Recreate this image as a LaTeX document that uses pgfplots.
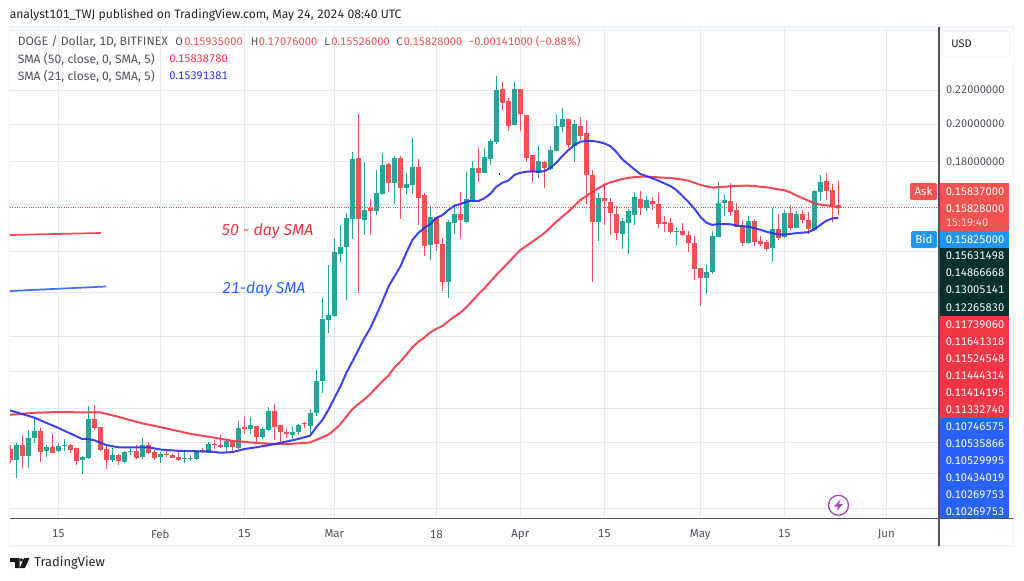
\documentclass[border=0pt]{standalone}
\usepackage{pgfplots}
\usepackage{pgfplotstable}
\usepackage{fontspec}
\pgfplotsset{compat=1.18}
\setmainfont[Numbers=Monospaced]{Fira Sans}
\definecolor{cg}{HTML}{26A69A}
\definecolor{cr}{HTML}{EF5350}
\definecolor{gridc}{HTML}{E1EBF2}
\definecolor{framec}{HTML}{F0F3FA}
\definecolor{txt}{HTML}{50535E}
\definecolor{smab}{HTML}{2A2EEF}
\definecolor{smar}{HTML}{F23645}
\definecolor{darkb}{HTML}{04312C}
\definecolor{askr}{HTML}{F25350}
\definecolor{bidb}{HTML}{2196F3}
\definecolor{blue2}{HTML}{2962FF}
\definecolor{purp}{HTML}{AB47BC}
\pgfplotstableread{
d o h l c
7 .0783 .0821 .0745 .0816
9 .0792 .0851 .0766 .0832
10 .0833 .0881 .0821 .0849
12 .0803 .0816 .0790 .0812
14 .0803 .0820 .0801 .0814
15 .0815 .0830 .0802 .0817
18 .0783 .0792 .0753 .0789
19 .0787 .0910 .0786 .0877
23 .0783 .0809 .0779 .0794
25 .0779 .0803 .0779 .0801
26 .0802 .0809 .0794 .0803
28 .0789 .0833 .0785 .0816
31 .0789 .0800 .0777 .0796
35 .0787 .0805 .0777 .0788
36 .0787 .0793 .0781 .0788
37 .0785 .0805 .0785 .0803
39 .0799 .0823 .0799 .0818
42 .0812 .0830 .0799 .0826
44 .0810 .0873 .0810 .0855
46 .0853 .0882 .0842 .0863
48 .0835 .0858 .0830 .0853
49 .0851 .0907 .0851 .0897
53 .0840 .0858 .0830 .0846
54 .0846 .0865 .0840 .0863
56 .0860 .0902 .0842 .0892
57 .0893 .1006 .0886 .0976
58 .0975 .1231 .0945 .1160
59 .1157 .1349 .1117 .1173
60 .1171 .1455 .1171 .1400
61 .1391 .1509 .1362 .1419
62 .1419 .1560 .1224 .1539
63 .1534 .1850 .1451 .1814
65 .1530 .1799 .1467 .1573
67 .1569 .1759 .1551 .1650
68 .1646 .1845 .1646 .1784
70 .1697 .1829 .1600 .1819
72 .1673 .1745 .1646 .1692
73 .1688 .1924 .1646 .1774
76 .1427 .1591 .1368 .1543
79 .1287 .1530 .1231 .1522
80 .1518 .1600 .1472 .1556
82 .1522 .1749 .1518 .1622
83 .1613 .1804 .1609 .1769
85 .1745 .1871 .1745 .1824
86 .1814 .1918 .1784 .1908
87 .1902 .2287 .1892 .2200
90 .1995 .2250 .1995 .2206
94 .1745 .1881 .1721 .1804
96 .1764 .1881 .1764 .1860
97 .1855 .2051 .1855 .1989
98 .1983 .2092 .1956 .2029
100 .1881 .2023 .1799 .2000
104 .1522 .1650 .1443 .1627
108 .1472 .1539 .1411 .1526
109 .1518 .1578 .1391 .1569
110 .1551 .1655 .1509 .1631
112 .1582 .1636 .1569 .1618
117 .1481 .1500 .1427 .1484
122 .1301 .1349 .1244 .1324
123 .1324 .1484 .1316 .1463
124 .1459 .1702 .1459 .1605
125 .1605 .1641 .1547 .1618
129 .1435 .1547 .1435 .1526
133 .1415 .1582 .1364 .1492
135 .1459 .1573 .1455 .1560
137 .1496 .1569 .1496 .1556
140 .1488 .1664 .1484 .1659
141 .1655 .1735 .1613 .1702
}\greencandles
\pgfplotstableread{
d o h l c
6 .0807 .0816 .0776 .0783
8 .0816 .0840 .0766 .0792
11 .0849 .0855 .0779 .0801
13 .0812 .0842 .0799 .0799
16 .0816 .0818 .0799 .0805
17 .0810 .0810 .0773 .0781
20 .0877 .0912 .0851 .0855
21 .0858 .0859 .0803 .0805
22 .0807 .0816 .0764 .0783
24 .0794 .0796 .0773 .0781
27 .0803 .0816 .0785 .0787
29 .0816 .0823 .0796 .0799
30 .0801 .0805 .0783 .0787
32 .0796 .0803 .0789 .0794
33 .0794 .0796 .0787 .0788
34 .0789 .0803 .0781 .0783
38 .0804 .0809 .0799 .0800
40 .0818 .0828 .0807 .0816
41 .0816 .0840 .0810 .0812
43 .0826 .0828 .0801 .0812
45 .0858 .0882 .0842 .0853
47 .0860 .0860 .0820 .0835
50 .0897 .0915 .0828 .0858
51 .0863 .0863 .0823 .0846
52 .0846 .0855 .0833 .0842
55 .0868 .0870 .0855 .0865
64 .1819 .2057 .1249 .1534
66 .1582 .1622 .1467 .1569
69 .1789 .1794 .1655 .1697
71 .1819 .1829 .1534 .1673
74 .1774 .1814 .1509 .1627
75 .1641 .1650 .1383 .1423
77 .1543 .1543 .1403 .1431
78 .1431 .1455 .1255 .1287
81 .1556 .1655 .1451 .1530
84 .1769 .1871 .1702 .1745
88 .2206 .2250 .2080 .2121
89 .2133 .2151 .1962 .1989
91 .2206 .2206 .1962 .2057
92 .2051 .2051 .1799 .1819
93 .1834 .1834 .1702 .1749
95 .1799 .1804 .1673 .1769
99 .2029 .2029 .1871 .1886
101 .1989 .2040 .1913 .1934
102 .1951 .2017 .1600 .1735
103 .1735 .1759 .1287 .1522
105 .1627 .1697 .1509 .1613
106 .1609 .1627 .1467 .1560
107 .1556 .1591 .1447 .1476
111 .1622 .1659 .1551 .1582
113 .1613 .1631 .1573 .1600
114 .1600 .1650 .1496 .1513
115 .1522 .1547 .1480 .1513
116 .1518 .1539 .1472 .1480
118 .1484 .1518 .1463 .1467
119 .1467 .1484 .1400 .1435
120 .1435 .1463 .1294 .1335
121 .1339 .1339 .1203 .1301
126 .1613 .1697 .1547 .1564
127 .1573 .1605 .1500 .1500
128 .1509 .1526 .1423 .1435
130 .1526 .1534 .1423 .1439
131 .1443 .1463 .1423 .1431
132 .1439 .1447 .1403 .1411
134 .1492 .1556 .1447 .1455
136 .1560 .1595 .1488 .1496
138 .1556 .1573 .1518 .1530
139 .1530 .1564 .1472 .1492
142 .1706 .1745 .1618 .1659
143 .1664 .1692 .1522 .1595
144 .15935 .17076 .15526 .15828
}\redcandles
\pgfplotstableread{
d v
5.95 .0899
10 .0881
14 .0856
18 .0830
19 .0830
20 .0827
22 .0816
24 .0811
26 .0811
29 .0811
31 .0806
34 .0803
37 .0802
39 .0802
41 .0799
43 .0800
45 .0807
47 .0811
50 .0818
54 .0830
56 .0838
57 .0858
58 .0875
59 .0900
60 .0930
61 .0961
62 .0998
63 .1030
64 .1064
65 .1100
66 .1131
67 .1173
68 .1218
69 .1269
70 .1306
71 .1343
72 .1396
73 .1447
74 .1476
75 .1496
76 .1513
77 .1539
78 .1551
79 .1573
80 .1592
81 .1600
82 .1610
83 .1615
84 .1613
85 .1626
86 .1646
87 .1679
88 .1698
89 .1708
90 .1735
91 .1746
92 .1751
93 .1753
94 .1751
95 .1754
96 .1770
97 .1796
98 .1829
99 .1860
100 .1886
101 .1904
102 .1909
103 .1908
104 .1904
105 .1895
106 .1881
107 .1851
108 .1813
109 .1788
110 .1763
111 .1740
112 .1730
113 .1719
114 .1708
115 .1695
116 .1683
117 .1664
118 .1637
119 .1610
120 .1580
121 .1544
122 .1519
123 .1509
124 .1513
125 .1513
126 .1512
127 .1507
128 .1504
129 .1501
130 .1496
131 .1489
132 .1481
133 .1475
134 .1470
135 .1469
136 .1472
137 .1475
138 .1477
139 .1479
140 .1491
141 .1509
142 .1527
143 .1537
144 .15391
}\smatwentyone
\pgfplotstableread{
d v
5.95 .0888
10 .0893
14 .0895
18 .0894
21 .0894
24 .0883
28 .0867
32 .0855
36 .0842
40 .0833
43 .0826
46 .0822
49 .0819
52 .0818
56 .0822
59 .0840
60 .0851
61 .0865
62 .0883
63 .0902
64 .0915
65 .0927
66 .0941
67 .0958
68 .0975
69 .0990
70 .1013
71 .1030
72 .1050
73 .1072
74 .1089
75 .1102
76 .1118
77 .1129
78 .1138
79 .1153
80 .1168
81 .1181
82 .1199
83 .1221
84 .1244
85 .1264
86 .1288
87 .1312
88 .1335
91 .1407
93 .1440
95 .1475
97 .1523
99 .1566
101 .1618
102 .1636
103 .1656
104 .1672
105 .1688
106 .1700
107 .1708
108 .1716
109 .1721
110 .1725
111 .1727
112 .1727
113 .1725
114 .1724
115 .1722
116 .1721
117 .1717
118 .1713
119 .1708
120 .1698
121 .1688
122 .1681
123 .1675
124 .1677
125 .1679
126 .1681
127 .1683
128 .1684
129 .1684
130 .1683
131 .1679
132 .1677
133 .1672
134 .1667
135 .1663
136 .1653
137 .1639
138 .1627
139 .1615
140 .1603
141 .1597
142 .1594
143 .1591
144 .15839
}\smafifty
\pgfplotsset{
  wick/.style={draw=none,mark=none,forget plot,
    error bars/.cd,y dir=both,y explicit,error mark=none,
    error bar style={line width=.75pt,draw=#1,solid}},
  body/.style={draw=none,mark=none,forget plot,
    error bars/.cd,y dir=plus,y explicit,error mark=none,
    error bar style={line width=3.7pt,draw=#1,solid}}
}
\newcommand\tl[3]{\node[anchor=west,inner sep=0,text=#3,font=\fontsize{8.3pt}{10pt}\selectfont] at (#1) {#2};}
\newcommand\tls[3]{\node[anchor=west,inner sep=0,text=#3,font=\fontsize{9.1pt}{10pt}\selectfont] at (#1) {#2};}
\begin{document}
\begin{tikzpicture}
\begin{scope}[x=.75pt,y=-.75pt]
\fill[white] (0,0) rectangle (1024,581);
\draw[framec,line width=1.3pt] (9.5,27) rectangle (1013.5,546);
\end{scope}
\begin{axis}[
  at={(7.5pt,-388.5pt)},anchor=south west,scale only axis,
  width=696.75pt,height=367.5pt,
  ymode=log,
  xmin=5.95,xmax=160.783,ymin=.066559,ymax=.2616,
  axis line style={draw=none},
  major tick length=0pt,minor tick length=0pt,
  grid=major,major grid style={gridc,line width=.75pt},
  xtick={14,31,45,60,77,91,105,121,135,152},
  xticklabels={15,Feb,15,Mar,18,Apr,15,May,15,Jun},
  xticklabel style={font=\fontsize{8.6pt}{10pt}\selectfont,text=txt,yshift=-5.5pt},
  ytick={.2601,.22,.20,.18,.16,.14,.1248,.1104,.1001,.0903,.0823,.0753,.0683},
  yticklabels={,0.22000000,0.20000000,0.18000000,,,,,,,,,},
  yticklabel pos=right,
  yticklabel style={font=\fontsize{8.3pt}{10pt}\selectfont,text=txt,anchor=west,xshift=1.8pt},
]
\addplot[wick=cg] table[x=d,y=o,y error plus expr=\thisrow{h}-\thisrow{o}+.00001,y error minus expr=\thisrow{o}-\thisrow{l}+.00001] {\greencandles};
\addplot[body=cg] table[x=d,y=o,y error plus expr=\thisrow{c}-\thisrow{o}+.00001] {\greencandles};
\addplot[wick=cr] table[x=d,y=o,y error plus expr=\thisrow{h}-\thisrow{o}+.00001,y error minus expr=\thisrow{o}-\thisrow{l}+.00001] {\redcandles};
\addplot[body=cr] table[x=d,y=c,y error plus expr=\thisrow{o}-\thisrow{c}+.00001] {\redcandles};
\addplot[smar,line width=1.5pt,mark=none,opacity=.9] table[x=d,y=v] {\smafifty};
\addplot[smab,line width=1.5pt,mark=none,opacity=.9] table[x=d,y=v] {\smatwentyone};
\addplot[cr,line width=.75pt,densely dotted,mark=none] coordinates {(5.95,.15828) (160.783,.15828)};
\end{axis}
\begin{scope}[x=.75pt,y=-.75pt]
% axis rules
\draw[txt,line width=.8pt] (10,518.3)--(1013,518.3);
\draw[txt,line width=.8pt] (939,27.5)--(939,546);
% annotation lines and texts
\draw[smar,line width=1.3pt,opacity=.9] (10,235)--(101,233);
\draw[blue2,line width=1.3pt,opacity=.9] (10,291)--(106,286.5);
\node[anchor=west,inner sep=0,text=smar,font=\fontsize{11.9pt}{13pt}\selectfont\itshape] at (221,231) {50 - day SMA};
\node[anchor=west,inner sep=0,text=blue2,font=\fontsize{11.8pt}{13pt}\selectfont\itshape] at (222,289) {21-day SMA};
\fill[black] (498.5,173.5) rectangle (500,175.2);
% header
\tls{9.5,15}{analyst101\_TWJ published on TradingView.com, May 24, 2024 08:40 UTC}{black!85}
\tls{17.5,42}{DOGE / Dollar, 1D, BITFINEX}{txt}
\tl{175,42}{O}{txt}\tl{184,42}{0.15935000}{cr}
\tl{250.5,42}{H}{txt}\tl{258.5,42}{0.17076000}{cr}
\tl{324,42}{L}{txt}\tl{331,42}{0.15526000}{cr}
\tl{396,42}{C}{txt}\tl{403.5,42}{0.15828000}{cr}
\tl{468,42}{−0.00141000 (−0.88\%)}{cr}
\tls{17.5,59}{SMA (50, close, 0, SMA, 5)}{txt}\tl{169,59}{0.15838780}{smar}
\tls{17.5,76}{SMA (21, close, 0, SMA, 5)}{txt}\tl{169,76}{0.15391381}{smab}
% USD button
\draw[framec,line width=.9pt,rounded corners=3pt] (942,31) rectangle (1010,57);
\tl{951,43.5}{USD}{black!85}
% price badges
\fill[askr,rounded corners=1.5pt] (910,183) rectangle (937,200);
\node[anchor=center,inner sep=0,text=white,font=\fontsize{8.6pt}{10pt}\selectfont] at (923.5,191.5) {Ask};
\fill[bidb,rounded corners=1.5pt] (911,231) rectangle (937,248);
\node[anchor=center,inner sep=0,text=white,font=\fontsize{8.6pt}{10pt}\selectfont] at (924,239.5) {Bid};
\fill[askr] (939.5,183) rectangle (1009,231);
\fill[bidb] (939.5,231) rectangle (1009,248);
\fill[darkb] (939.5,248) rectangle (1009,316);
\fill[smar] (939.5,316) rectangle (1009,418);
\fill[blue2] (939.5,418) rectangle (1009,518);
\tl{945.5,191.5}{0.15837000}{white}
\tl{945.5,208.3}{0.15828000}{white}
\tl{945.5,222.5}{15:19:40}{white!75!askr}
\tl{945.5,239.3}{0.15825000}{white}
\tl{945.5,255.5}{0.15631498}{white}
\tl{945.5,273}{0.14866668}{white}
\tl{945.5,290}{0.13005141}{white}
\tl{945.5,307.5}{0.12265830}{white}
\tl{945.5,324.5}{0.11739060}{white}
\tl{945.5,341.5}{0.11641318}{white}
\tl{945.5,358.5}{0.11524548}{white}
\tl{945.5,376}{0.11444314}{white}
\tl{945.5,392.5}{0.11414195}{white}
\tl{945.5,409.5}{0.11332740}{white}
\tl{945.5,427}{0.10746575}{white}
\tl{945.5,444}{0.10535866}{white}
\tl{945.5,461}{0.10529995}{white}
\tl{945.5,478}{0.10434019}{white}
\tl{945.5,495}{0.10269753}{white}
\tl{945.5,512}{0.10269753}{white}
% lightning
\draw[purp,line width=1pt,fill=white] (838.5,505.3) circle (10);
\fill[purp] (840.5,499.5)--(834,506.5)--(838,506.5)--(836.5,511)--(843,504)--(839,504)--cycle;
% logo
\fill[black!90] (10,558)--(19.5,558)--(19.5,568)--(15,568)--(15,562)--(10,562)--cycle;
\fill[black!90] (21.3,560) circle (1.9);
\fill[black!90] (24,558)--(29.5,558)--(25,568)--(19.8,568)--cycle;
\node[anchor=west,inner sep=0,text=black!85,font=\fontsize{9.7pt}{13pt}\selectfont] at (34,563) {TradingView};
\end{scope}
\end{tikzpicture}
\end{document}
